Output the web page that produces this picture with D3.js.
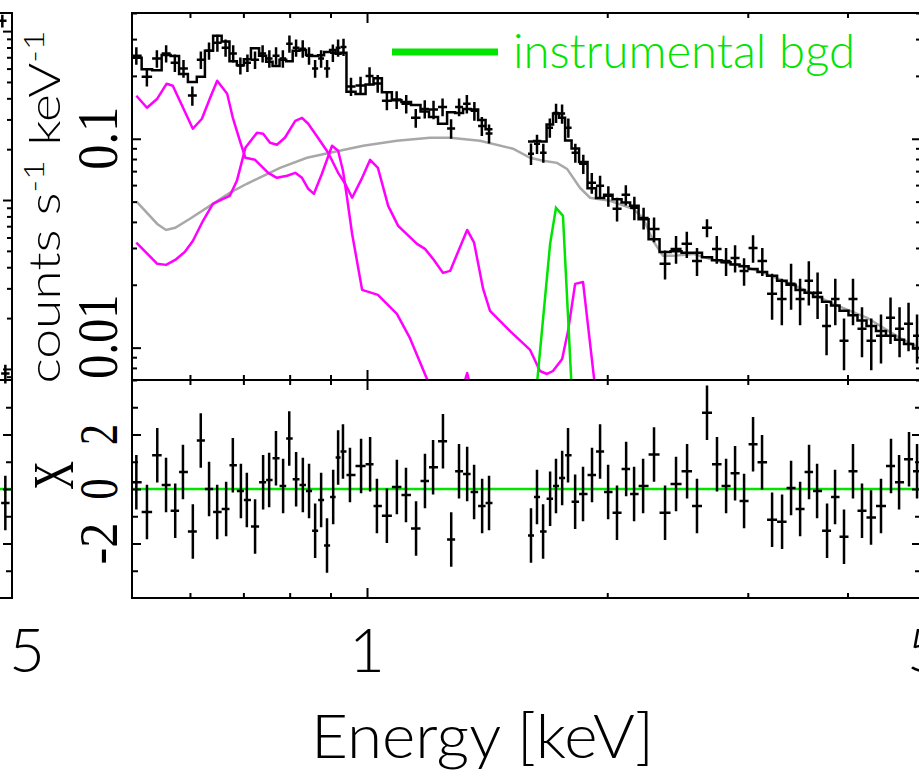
<!DOCTYPE html>
<html>
<head>
<meta charset="utf-8">
<script src="https://cdn.jsdelivr.net/npm/d3@7"></script>
<style>
body { margin: 0; background: #fff; }
svg { display: block; }
.sans { font-family: Lato, "Liberation Sans Narrow", "Open Sans", sans-serif; font-weight: 300; }
.serif { font-family: "Liberation Serif", "DejaVu Serif", serif; }
</style>
</head>
<body>
<svg id="chart" width="919" height="778"></svg>
<script>
// spectrum bins (keV), rate, 1-sigma error, folded model, residual in sigma
const energy = [0.514, 0.530, 0.546, 0.560, 0.575, 0.588, 0.605, 0.619, 0.634, 0.649, 0.666, 0.679, 0.695, 0.707, 0.724,
    0.741, 0.754, 0.769, 0.785, 0.799, 0.815, 0.831, 0.846, 0.861, 0.876, 0.891, 0.907, 0.920, 0.933, 0.952, 0.983, 1.009,
    1.029, 1.059, 1.090, 1.119, 1.152, 1.182, 1.210, 1.245, 1.275, 1.304, 1.335, 1.362, 1.394, 1.422,
    1.605, 1.633, 1.662, 1.696, 1.725, 1.756, 1.786, 1.823, 1.865, 1.914, 1.959, 2.005, 2.057, 2.112, 2.161, 2.218, 2.289,
    2.363, 2.439, 2.518, 2.591, 2.667, 2.745, 2.818, 2.892, 2.968, 3.046, 3.126, 3.218, 3.312, 3.399, 3.489, 3.580, 3.664,
    3.771, 3.859, 3.960, 4.064, 4.171, 4.281, 4.406, 4.535, 4.642, 4.777, 4.889];
const rate = [0.250, 0.198, 0.242, 0.256, 0.231, 0.217, 0.161, 0.239, 0.264, 0.288, 0.273, 0.256, 0.224, 0.231, 0.239,
    0.256, 0.242, 0.250, 0.242, 0.285, 0.273, 0.270, 0.250, 0.217, 0.242, 0.217, 0.258, 0.273, 0.275, 0.178, 0.180, 0.200,
    0.184, 0.152, 0.154, 0.147, 0.126, 0.139, 0.138, 0.142, 0.112, 0.142, 0.147, 0.136, 0.115, 0.106,
    0.0848, 0.0946, 0.0857, 0.113, 0.133, 0.132, 0.113, 0.0857, 0.0759, 0.0616, 0.0596, 0.0533, 0.0462, 0.0539, 0.0467,
    0.0418, 0.0370, 0.0252, 0.0297, 0.0314, 0.0260, 0.0375, 0.0297, 0.0260, 0.0269, 0.0233, 0.0300, 0.0260, 0.0181,
    0.0171, 0.0202, 0.0171, 0.0209, 0.0183, 0.0127, 0.0171, 0.0108, 0.0171, 0.0123, 0.0108, 0.0114, 0.0139, 0.0123,
    0.0130, 0.0114];
const rateErr = [0.024, 0.020, 0.023, 0.024, 0.022, 0.021, 0.017, 0.023, 0.025, 0.027, 0.026, 0.024, 0.021, 0.022, 0.023,
    0.024, 0.023, 0.024, 0.023, 0.027, 0.026, 0.026, 0.024, 0.021, 0.023, 0.021, 0.025, 0.026, 0.026, 0.018, 0.018, 0.020,
    0.018, 0.015, 0.015, 0.015, 0.013, 0.014, 0.014, 0.014, 0.012, 0.014, 0.015, 0.014, 0.012, 0.011,
    0.010, 0.010, 0.009, 0.012, 0.014, 0.014, 0.012, 0.009, 0.008, 0.007, 0.007, 0.006, 0.006, 0.006, 0.006, 0.005, 0.005,
    0.004, 0.0045, 0.0045, 0.004, 0.0037, 0.0045, 0.004, 0.004, 0.0035, 0.0045, 0.004, 0.0045, 0.0043, 0.005, 0.0043,
    0.005, 0.0046, 0.0035, 0.0043, 0.003, 0.0043, 0.0033, 0.003, 0.003, 0.0035, 0.0033, 0.0034, 0.003];
const model = [0.244, 0.215, 0.213, 0.252, 0.249, 0.204, 0.187, 0.198, 0.264, 0.311, 0.292, 0.235, 0.225, 0.240, 0.271,
    0.250, 0.234, 0.223, 0.239, 0.235, 0.264, 0.266, 0.252, 0.249, 0.251, 0.260, 0.266, 0.255, 0.258, 0.168, 0.164, 0.182,
    0.195, 0.167, 0.153, 0.150, 0.145, 0.135, 0.127, 0.118, 0.134, 0.133, 0.139, 0.138, 0.123, 0.111,
    0.097, 0.0975, 0.097, 0.117, 0.132, 0.126, 0.098, 0.0899, 0.0773, 0.0580, 0.0520, 0.0540, 0.0514, 0.0495, 0.0478,
    0.0412, 0.0330, 0.0287, 0.0289, 0.0285, 0.0285, 0.0271, 0.0262, 0.0256, 0.0250, 0.0245, 0.0238, 0.0230, 0.0221,
    0.0209, 0.0200, 0.0189, 0.0183, 0.0175, 0.0166, 0.0159, 0.0150, 0.0143, 0.0135, 0.0127, 0.0120, 0.0114, 0.0109,
    0.0104, 0.0099];
const chi = [0.25, -0.84, 1.24, 0.15, -0.80, 0.62, -1.56, 1.78, 0.00, -0.84, -0.73, 0.87, -0.07, -0.40, -1.38, 0.25, 0.33,
    1.13, 0.11, 1.85, 0.36, 0.15, -0.07, -1.53, -0.40, -2.07, -0.29, 1.16, 1.38, 0.51, 0.84, 0.91, -0.62, -0.98, 0.07,
    -0.22, -1.45, 0.29, 0.80, 1.75, -1.85, 0.65, 0.55, -0.11, -0.62, -0.51,
    -1.71, -0.29, -1.56, -0.36, 0.11, 0.40, 1.24, -0.47, -0.18, 0.51, 1.38, -0.11, -0.87, 0.73, -0.18, 0.11, 1.27, -0.87,
    0.18, 0.65, -0.62, 2.80, 0.91, 0.11, 0.58, -0.44, 1.64, 0.98, -1.13, -1.20, 0.04, -0.73, 0.62, -0.07, -1.53, -0.29,
    -1.75, 0.65, -0.80, -1.05, -0.62, 0.84, 0.25, 1.09, 0.65];

// model components
const contE = [0.514, 0.546, 0.560, 0.575, 0.600, 0.641, 0.673, 0.707, 0.778, 0.841, 0.899, 0.989, 1.090, 1.199, 1.271,
    1.385, 1.524, 1.601, 1.662, 1.730, 1.781, 1.849, 1.903, 2.016, 2.154, 2.218, 2.283, 2.350, 2.418, 2.562, 2.745, 2.959,
    3.172, 3.489, 3.837, 4.233, 4.655, 4.917];
const contV = [0.0501, 0.0391, 0.0366, 0.0375, 0.0414, 0.0488, 0.0551, 0.0609, 0.0726, 0.0811, 0.0857, 0.0926, 0.0978,
    0.1011, 0.1011, 0.0978, 0.0896, 0.0811, 0.0785, 0.0767, 0.0718, 0.0582, 0.0522, 0.0505, 0.0462, 0.0418, 0.0324, 0.0275,
    0.0275, 0.0281, 0.0260, 0.0246, 0.0225, 0.0193, 0.0162, 0.0139, 0.0111, 0.0100];
const coolE = [0.514, 0.530, 0.546, 0.561, 0.571, 0.605, 0.621, 0.636, 0.649, 0.668, 0.679, 0.693, 0.704, 0.724, 0.752,
    0.771, 0.794, 0.813, 0.829, 0.844, 0.858, 0.878, 0.904, 0.920, 0.933, 0.944, 0.958, 0.986, 1.032, 1.090, 1.132, 1.189,
    1.252, 1.304, 1.335, 1.362, 1.426];
const coolV = [0.1607, 0.1408, 0.1555, 0.1835, 0.1795, 0.1117, 0.1247, 0.1572, 0.1896, 0.1643, 0.1260, 0.0978, 0.0811,
    0.0793, 0.0687, 0.0650, 0.0665, 0.0687, 0.0650, 0.0576, 0.0545, 0.0680, 0.0926, 0.0876, 0.0703, 0.0522, 0.0350, 0.0189,
    0.0179, 0.0145, 0.0111, 0.00708, 0.00526, 0.00555, 0.00756, 0.00555, 0.00399];
const warmE = [0.514, 0.546, 0.560, 0.575, 0.591, 0.605, 0.623, 0.641, 0.660, 0.673, 0.687, 0.704, 0.728, 0.741, 0.756,
    0.771, 0.789, 0.813, 0.829, 0.844, 0.868, 0.894, 0.920, 0.939, 0.958, 0.986, 1.009, 1.032, 1.063, 1.094, 1.155, 1.182,
    1.213, 1.245, 1.271, 1.335, 1.362, 1.398, 1.426, 1.511, 1.601, 1.647, 1.681, 1.710, 1.756, 1.786, 1.823, 1.865, 1.959];
const warmV = [0.0318, 0.0252, 0.0249, 0.0263, 0.0287, 0.0324, 0.0405, 0.0488, 0.0516, 0.0533, 0.0629, 0.0905, 0.1068,
    0.1057, 0.0957, 0.0936, 0.1011, 0.1219, 0.1260, 0.1180, 0.1011, 0.0857, 0.0687, 0.0609, 0.0522, 0.0650, 0.0793, 0.0726,
    0.0477, 0.0383, 0.0314, 0.0297, 0.0263, 0.0228, 0.0233, 0.0366, 0.0318, 0.0191, 0.0150, 0.0120, 0.00975, 0.00773,
    0.00748, 0.00773, 0.00883, 0.0120, 0.0202, 0.0206, 0.004];
const bgdE = [1.601, 1.696, 1.725, 1.760, 1.823];
const bgdV = [0.003, 0.0314, 0.0467, 0.0428, 0.003];

// edge of the neighbouring panel on the left
const nbE = [4.66, 4.70];
const nbRate = [11.5, 0.094];
const nbErr = [1.0, 0.012];
const nbChi = [-0.51];

const xLabels = [1, 5];
const yLabels = ['0.1', '0.01'];
const chiLabels = [-2, 0, 2];
const legendLabel = 'instrumental bgd';

const GREEN = '#00e400', MAGENTA = '#ff00ff', GREY = '#a8a8a8';
const box = {left: 132, right: 921, top: 13, mid: 380, bottom: 598};

const svg = d3.select('#chart');

const x = d3.scaleLog().domain([0.5076, 4.945]).range([box.left, box.right]);
const y = d3.scaleLog().domain([0.007, 0.4]).range([box.mid, box.top]);
const yr = d3.scaleLinear().domain([-4, 4]).range([box.bottom, box.mid]);

const nbRight = 12;
const xn = d3.scaleLog().domain([0.5076, 4.79]).range([nbRight - (box.right - box.left), nbRight]);
const yn = d3.scaleLog().domain([0.086, 12.8]).range([box.mid, box.top]);

svg.append('defs').append('clipPath').attr('id', 'clip-top')
    .append('rect')
    .attr('x', box.left).attr('y', box.top)
    .attr('width', box.right - box.left).attr('height', box.mid - box.top);

// bins: edges halfway (in log) to the neighbours, broken at the gap
let seg = 0;
const bins = energy.map((e, i) => {
    const prev = energy[i - 1], next = energy[i + 1];
    const openPrev = prev === undefined || e / prev > 1.08;
    const openNext = next === undefined || next / e > 1.08;
    if (openPrev && i > 0) seg++;
    let lo = openPrev ? null : Math.sqrt(prev * e);
    let hi = openNext ? null : Math.sqrt(next * e);
    if (lo === null) lo = e * e / hi;
    if (hi === null) hi = e * e / lo;
    return {e: e, lo: lo, hi: hi, seg: seg, rate: rate[i], err: rateErr[i], model: model[i], chi: chi[i]};
});

const line = d3.line().x(d => x(d[0])).y(d => y(d[1]));
const plot = svg.append('g').attr('clip-path', 'url(#clip-top)');

const comp = (es, vs) => es.map((e, i) => [e, vs[i]]);

plot.append('path').attr('d', line(comp(contE, contV)))
    .attr('fill', 'none').attr('stroke', GREY).attr('stroke-width', 2.5);
[comp(coolE, coolV), comp(warmE, warmV)].forEach(pts => {
    plot.append('path').attr('d', line(pts))
        .attr('fill', 'none').attr('stroke', MAGENTA).attr('stroke-width', 2.5)
        .attr('stroke-linejoin', 'round');
});
plot.append('path').attr('d', line(comp(bgdE, bgdV)))
    .attr('fill', 'none').attr('stroke', GREEN).attr('stroke-width', 2.5);

// folded model as a histogram, one run per contiguous group
d3.groups(bins, b => b.seg).forEach(([, grp]) => {
    const pts = grp.flatMap(b => [[b.lo, b.model], [b.hi, b.model]]);
    plot.append('path').attr('d', line(pts))
        .attr('fill', 'none').attr('stroke', '#000').attr('stroke-width', 2.5);
});

const cross = (sx, sy, lo, hi, c, top, bot) =>
    'M' + sx(lo) + ',' + sy(c) + 'H' + sx(hi) + 'M' + sx(Math.sqrt(lo * hi)) + ',' + sy(top) + 'V' + sy(bot);

plot.selectAll('path.data').data(bins).join('path')
    .attr('class', 'data')
    .attr('d', b => cross(x, y, b.lo, b.hi, b.rate, b.rate + b.err, b.rate - b.err))
    .attr('fill', 'none').attr('stroke', '#000').attr('stroke-width', 2.5);

// residual panel
svg.append('line')
    .attr('x1', box.left).attr('x2', box.right)
    .attr('y1', yr(0)).attr('y2', yr(0))
    .attr('stroke', GREEN).attr('stroke-width', 2.5);

svg.selectAll('path.resid').data(bins).join('path')
    .attr('class', 'resid')
    .attr('d', b => 'M' + x(b.lo) + ',' + yr(b.chi) + 'H' + x(b.hi) +
        'M' + x(b.e) + ',' + yr(b.chi + 1) + 'V' + yr(b.chi - 1))
    .attr('fill', 'none').attr('stroke', '#000').attr('stroke-width', 2.5);

// neighbouring panel edge
svg.append('line')
    .attr('x1', xn(0.5076)).attr('x2', nbRight)
    .attr('y1', yr(0)).attr('y2', yr(0))
    .attr('stroke', GREEN).attr('stroke-width', 2.5);
nbE.forEach((e, i) => {
    svg.append('path')
        .attr('d', cross(xn, yn, e / 1.012, e * 1.012, nbRate[i], nbRate[i] + nbErr[i], nbRate[i] - nbErr[i]))
        .attr('fill', 'none').attr('stroke', '#000').attr('stroke-width', 2.5);
});
nbChi.forEach((c, i) => {
    const e = nbE[nbE.length - 1 - i];
    svg.append('path')
        .attr('d', 'M' + xn(e / 1.012) + ',' + yr(c) + 'H' + xn(e * 1.012) +
            'M' + xn(e) + ',' + yr(c + 1) + 'V' + yr(c - 1))
        .attr('fill', 'none').attr('stroke', '#000').attr('stroke-width', 2.5);
});

// frames
[[box.top, box.mid], [box.mid, box.bottom]].forEach(([t, b]) => {
    svg.append('rect')
        .attr('x', box.left).attr('y', t)
        .attr('width', box.right - box.left).attr('height', b - t)
        .attr('fill', 'none').attr('stroke', '#000').attr('stroke-width', 2);
    svg.append('rect')
        .attr('x', xn.range()[0]).attr('y', t)
        .attr('width', box.right - box.left).attr('height', b - t)
        .attr('fill', 'none').attr('stroke', '#000').attr('stroke-width', 2);
});

// ticks on every side, pointing inwards
const isDecade = v => Math.abs(Math.log10(v) - Math.round(Math.log10(v))) < 1e-6;
const xMinor = x.ticks().filter(v => !isDecade(v));
const xMajor = x.ticks().filter(isDecade);
const yMinor = y.ticks().filter(v => !isDecade(v));
const yMajor = y.ticks().filter(isDecade);
const ynMinor = yn.ticks().filter(v => !isDecade(v));
const ynMajor = yn.ticks().filter(isDecade);

const ticks = (axis, tx, ty, values, size) => {
    svg.append('g').attr('transform', 'translate(' + tx + ',' + ty + ')')
        .call(axis.tickValues(values).tickSize(-size).tickFormat(''))
        .call(g => g.select('.domain').remove())
        .selectAll('line').attr('stroke-width', 2);
};

[[box.top, box.mid], [box.mid, box.bottom]].forEach(([t, b]) => {
    ticks(d3.axisTop(x), 0, t, xMinor, 5);
    ticks(d3.axisTop(x), 0, t, xMajor, 10);
    ticks(d3.axisBottom(x), 0, b, xMinor, 5);
    ticks(d3.axisBottom(x), 0, b, xMajor, 10);
});
ticks(d3.axisLeft(y), box.left, 0, yMinor, 5);
ticks(d3.axisLeft(y), box.left, 0, yMajor, 9);
ticks(d3.axisRight(y), box.right, 0, yMinor, 5);
ticks(d3.axisRight(y), box.right, 0, yMajor, 9);
ticks(d3.axisLeft(yr), box.left, 0, [-3, -1, 1, 3], 6);
ticks(d3.axisLeft(yr), box.left, 0, chiLabels, 9);
ticks(d3.axisRight(yr), box.right, 0, [-3, -1, 1, 3], 6);
ticks(d3.axisRight(yr), box.right, 0, chiLabels, 9);
ticks(d3.axisRight(yn), nbRight, 0, ynMinor, 5);
ticks(d3.axisRight(yn), nbRight, 0, ynMajor, 9);
ticks(d3.axisRight(yr), nbRight, 0, [-3, -1, 1, 3], 6);
ticks(d3.axisRight(yr), nbRight, 0, chiLabels, 9);

// labels
const vText = (cls, bx, cy, anchor, size, len, txt) => svg.append('text')
    .attr('class', cls)
    .attr('transform', 'translate(' + bx + ',' + cy + ') rotate(-90)')
    .attr('text-anchor', anchor)
    .attr('font-size', size)
    .attr('textLength', len).attr('lengthAdjust', 'spacingAndGlyphs')
    .text(txt);

// log labels sit with their end a little below the tick, as in the original
yLabels.forEach(v => vText('serif', 117, y(+v) + 31, 'start', 56, v.length * 21, v));
chiLabels.forEach(v => vText('serif', 117, yr(v), 'middle', 54, String(v).length * 21, String(v)));
vText('serif', 73, yr(0.5), 'middle', 58, 29, 'X');

const ylab = svg.append('text')
    .attr('class', 'sans')
    .attr('transform', 'translate(60,207) rotate(-90)')
    .attr('text-anchor', 'middle')
    .attr('font-size', 44)
    .attr('textLength', 353).attr('lengthAdjust', 'spacingAndGlyphs');
ylab.append('tspan').text('counts s');
ylab.append('tspan').attr('dy', -16).attr('font-size', 28).text('-1');
ylab.append('tspan').attr('dy', 16).text(' keV');
ylab.append('tspan').attr('dy', -16).attr('font-size', 28).text('-1');

xLabels.forEach(v => {
    svg.append('text').attr('class', 'sans')
        .attr('x', x(v)).attr('y', 672)
        .attr('text-anchor', 'middle').attr('font-size', 62)
        .text(v);
});
svg.append('text').attr('class', 'sans')
    .attr('x', xn(5)).attr('y', 672)
    .attr('text-anchor', 'middle').attr('font-size', 62)
    .text(5);

svg.append('text').attr('class', 'sans')
    .attr('x', 311).attr('y', 758)
    .attr('font-size', 62)
    .attr('textLength', 343).attr('lengthAdjust', 'spacingAndGlyphs')
    .text('Energy [keV]');

// legend
svg.append('line')
    .attr('x1', 392).attr('x2', 498).attr('y1', 52).attr('y2', 52)
    .attr('stroke', GREEN).attr('stroke-width', 7);
svg.append('text').attr('class', 'sans')
    .attr('x', 513).attr('y', 68)
    .attr('font-size', 48).attr('fill', GREEN)
    .attr('textLength', 342).attr('lengthAdjust', 'spacingAndGlyphs')
    .text(legendLabel);
</script>
</body>
</html>
